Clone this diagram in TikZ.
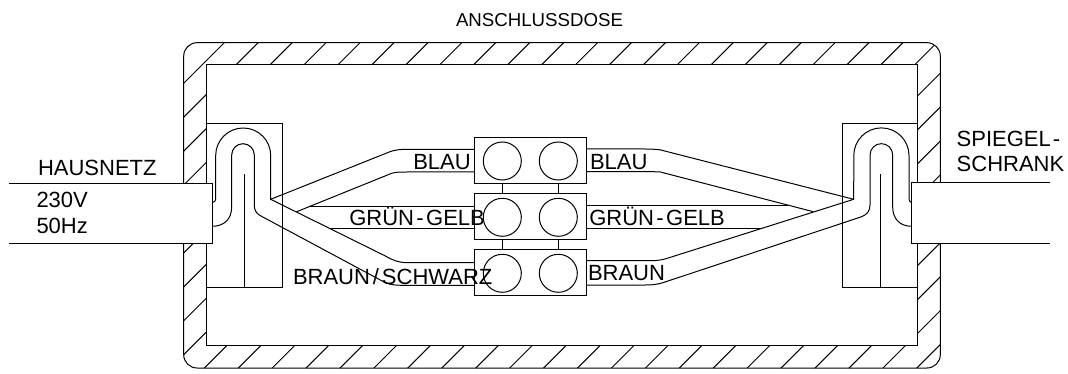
\documentclass[tikz,border=0pt]{standalone}
\usepackage{fontspec}
\setmainfont{Liberation Sans}
\begin{document}
\begin{tikzpicture}[x=0.75pt,y=-0.75pt,line width=0.75pt,
every node/.style={inner sep=0pt,outer sep=0pt},
label/.style={anchor=base west,font=\fontsize{16.5pt}{18pt}\selectfont},
title/.style={anchor=base west,font=\fontsize{14pt}{16pt}\selectfont},
klemme/.style={draw,minimum width=84.2pt,minimum height=34.7pt},
kontakt/.style={draw,circle,minimum size=28.5pt}]
\useasboundingbox (0,0) rectangle (1068,374);
% gehaeuse
\begin{scope}
\clip[rounded corners=10pt] (183.7,42.7) rectangle (940.3,368);
\foreach \k in {0,...,30}
  \draw (267+33.93*\k-400,400) -- (267+33.93*\k+100,-100);
\end{scope}
\draw[rounded corners=10pt] (183.7,42.7) rectangle (940.3,368);
\draw[fill=white] (206,65) rectangle (917.7,345.3);
% zugentlastung
\draw (206,124) -- (282.3,124) -- (282.3,287) -- (206,287);
\draw (244.3,174) -- (244.3,287);
\draw (917.7,124) -- (842,124) -- (842,287) -- (917.7,287);
\draw (880,174) -- (880,287);
% zuleitungen
\fill[white] (9.3,183.3) rectangle (212.3,243.7);
\draw (9.3,183.3) -- (212.3,183.3) -- (212.3,243.7) -- (9.3,243.7);
\fill[white] (1050,182.7) rectangle (911.7,243.3);
\draw (1050,182.7) -- (911.7,182.7) -- (911.7,243.3) -- (1050,243.3);
% klemmen
\node[klemme] (kl1) at (530.2,160.8) {};
\node[klemme] (kl2) at (530.2,216.8) {};
\node[klemme] (kl3) at (530.2,272.8) {};
\foreach \n/\y in {1/161,2/217.3,3/273.3} {
  \node[kontakt] (kl\n a) at (502.3,\y) {};
  \node[kontakt] (kl\n b) at (558.3,\y) {};
}
\foreach \s in {a,b} {
  \draw (kl1.south -| kl1\s) -- (kl2.north -| kl1\s);
  \draw (kl2.south -| kl1\s) -- (kl3.north -| kl1\s);
}
% adern links
\draw (212.3,202.7) .. controls (215,202) and (215.7,201) .. (215.7,197) -- (215.7,155.5)
  arc[start angle=180,end angle=360,radius=27.5] -- (270.7,199.3) -- (390,151.7)
  .. controls (396,149.7) and (400,149.3) .. (408,149.3) -- (kl1.west |- 0,149.3);
\draw (212.3,226.3) .. controls (224,226.3) and (231.7,219) .. (231.7,207) -- (231.7,155)
  arc[start angle=180,end angle=360,radius=11.3] -- (254.3,205)
  .. controls (254.3,210) and (256,213) .. (260,215.5) -- (385,282.5)
  .. controls (392,285.3) and (396,285.3) .. (408,285.3) -- (kl3.west |- 0,285.3);
\draw (270.7,199.3) -- (385,255.8) .. controls (392,259.8) and (398,262.7) .. (408,262.7) -- (kl3.west |- 0,262.7);
\draw (296.7,211.7) -- (391.7,173.3) .. controls (396,172) and (400,172) .. (408,172) -- (kl1.west |- 0,172);
\draw (310,206.7) -- (kl2.west |- 0,206.7);
\draw (330,228.6) -- (kl2.west |- 0,228.6);
% adern rechts
\draw (911.7,202.7) .. controls (909.7,202) and (909,201) .. (909,197) -- (909,155.5)
  arc[start angle=360,end angle=180,radius=27.6] -- (853.7,199.3) -- (660,149.8)
  .. controls (654,149.2) and (650,149) .. (645,149) -- (kl1.east |- 0,149);
\draw (911.7,226.3) .. controls (900,226.3) and (892.7,219) .. (892.7,207) -- (892.7,155)
  arc[start angle=360,end angle=180,radius=11.35] -- (870,205)
  .. controls (870,211) and (867,214.5) .. (861.7,216.7) -- (662,283)
  .. controls (654,285) and (650,285) .. (645,285) -- (kl3.east |- 0,285);
\draw (853.7,199.3) -- (665,259) .. controls (658,260.7) and (654,260.7) .. (648,260.7) -- (kl3.east |- 0,260.7);
\draw (813.3,211.7) -- (660,171.9) .. controls (655,171.7) and (652,171.7) .. (648,171.7) -- (kl1.east |- 0,171.7);
\draw (788.3,205.8) -- (kl2.east |- 0,205.8);
\draw (761.7,228.1) -- (kl2.east |- 0,228.1);
% beschriftung
\node[title] (dose) at (456,27) {ANSCHLUSSDOSE};
\node[label] (netz) at (38,176) {HAUSNETZ};
\node[label] (volt) at (36.5,208) {230V};
\node[label] (hertz) at (36.5,233.3) {50Hz};
\node[label] (blaul) at (413.3,169.3) {BLAU};
\node[label] (blaur) at (590,169.3) {BLAU};
\node[label] (gruenl) at (349.3,225.3) {GRÜN\kern1.8pt-\kern1.8pt GELB};
\node[label] (gruenr) at (589.3,225.3) {GRÜN\kern1.8pt-\kern1.8pt GELB};
\node[label] (braunl) at (293,284) {BRAUN\kern2.2pt/\kern2.2pt SCHWARZ};
\node[label] (braunr) at (588,281) {BRAUN};
\node[label] (spiegel) at (956.7,146.7) {SPIEGEL\kern1.5pt-};
\node[label] (schrank) at (956.7,171.7) {SCHRANK};
\end{tikzpicture}
\end{document}
